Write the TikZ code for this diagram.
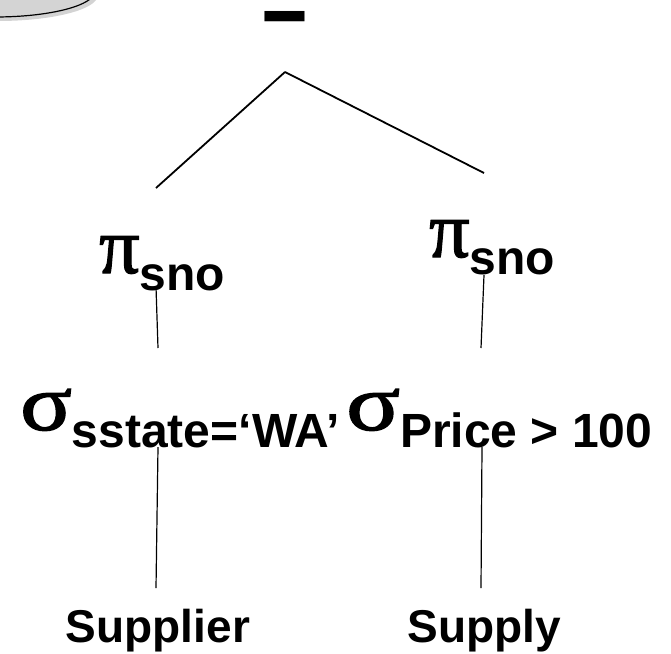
\documentclass[tikz,border=0pt]{standalone}
\usepackage{fontspec}
\usetikzlibrary{shadows}
\newfontfamily\symfont[FakeBold=1.6]{Liberation Serif}
\newfontfamily\arialfont{Liberation Sans}
\newcommand{\opsub}[1]{\raisebox{-17pt}{\arialfont\bfseries\fontsize{48}{48}\selectfont #1}}
\tikzset{
oplabel/.style={
  inner sep=0pt,
  anchor=base west,
  font=\symfont\fontsize{80}{80}\selectfont,
  }
}
\tikzset{
relname/.style={
  inner sep=0pt,
  anchor=base,
  font=\arialfont\bfseries\fontsize{46}{46}\selectfont,
  }
}
\tikzset{
treeline/.style={
  line width=1.2pt,
  }
}

\begin{document}
\begin{tikzpicture}[x=1pt,y=-1pt]
    \useasboundingbox (0,0) rectangle (671,653);
    \clip (0,0) rectangle (671,653);

    % callout, cut off at the corner
    \path [draw, line width=1.2pt, fill={rgb:black,1;white,5},
      drop shadow={shadow xshift=3pt, shadow yshift=-4pt, opacity=0.35}]
      (-5,-9) ellipse [x radius=100pt, y radius=26pt];

    % difference
    \node[inner sep=0pt, anchor=base, font=\arialfont\bfseries\fontsize{77}{77}\selectfont] (diff) at (284.5,44) {\scalebox{1.05}[1.35]{–}};
    \coordinate (apex) at (285,72);

    % projections
    \node[oplabel] (pil) at (99,273) {π\opsub{sno}};
    \node[oplabel] (pir) at (429,257) {π\opsub{sno}};
    \coordinate (pil-top) at (156,188);
    \coordinate (pir-top) at (484,173);
    \coordinate (pil-bot) at (156,287);
    \coordinate (pir-bot) at (484,275);

    % selections
    \node[oplabel] (sigl) at (20,430) {\scalebox{1.2}[1]{σ}\opsub{sstate=‘WA’}};
    \node[oplabel] (sigr) at (346,430) {\scalebox{1.25}[1]{σ}\opsub{Price > 100}};
    \coordinate (sigl-top) at (158,348);
    \coordinate (sigr-top) at (481,348);
    \coordinate (sigl-bot) at (158,447);
    \coordinate (sigr-bot) at (482,447);

    % relations
    \node[relname] (supl) at (158,642) {Supplier};
    \node[relname] (supy) at (484,642) {Supply};
    \coordinate (supl-top) at (156,588);
    \coordinate (supy-top) at (481,588);

    % tree edges
    \draw[treeline, line width=1.8pt] (apex) -- (pil-top);
    \draw[treeline, line width=1.8pt] (apex) -- (pir-top);
    \draw[treeline] (pil-bot) -- (sigl-top);
    \draw[treeline] (pir-bot) -- (sigr-top);
    \draw[treeline] (sigl-bot) -- (supl-top);
    \draw[treeline] (sigr-bot) -- (supy-top);
\end{tikzpicture}
\end{document}
